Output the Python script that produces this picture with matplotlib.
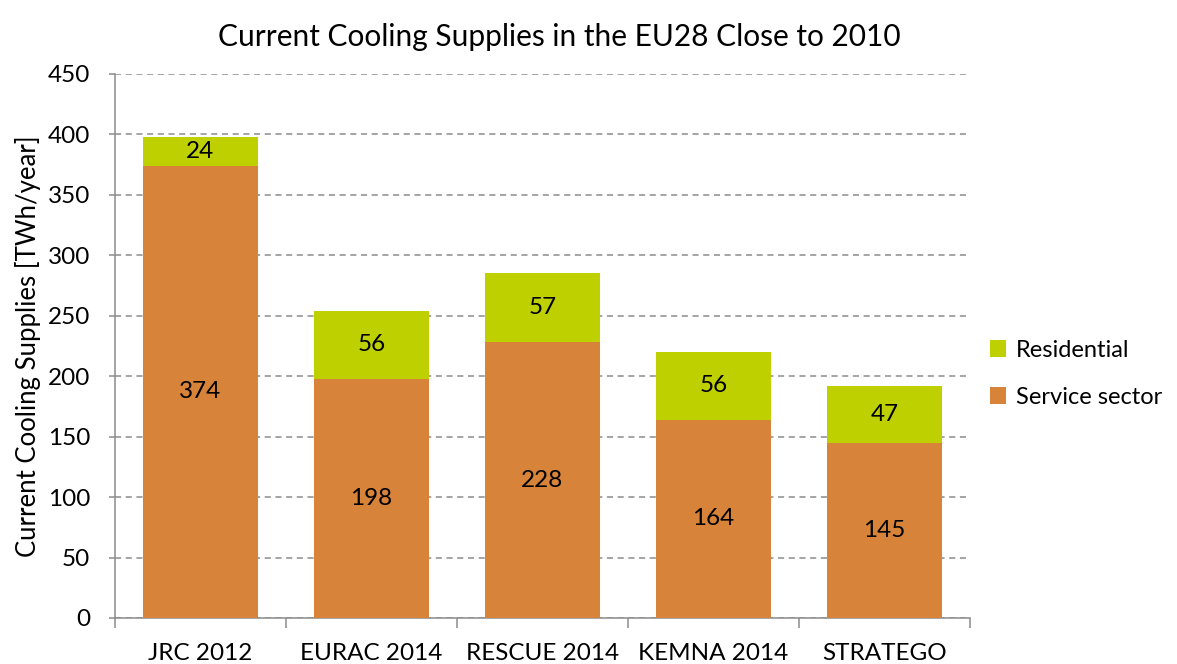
import matplotlib
matplotlib.use("Agg")
import matplotlib.pyplot as plt
import numpy as np

plt.rcParams['font.family'] = ['Lato', 'DejaVu Sans']

studies = ['JRC 2012', 'EURAC 2014', 'RESCUE 2014', 'KEMNA 2014', 'STRATEGO']
service = [374, 198, 228, 164, 145]
residential = [24, 56, 57, 56, 47]

orange = '#D8833A'
green = '#BFD000'

fig = plt.figure(figsize=(11.77, 6.64), dpi=100)
ax = fig.add_axes([0.0977, 0.0693, 0.7263, 0.8193])

x = np.arange(len(studies))
b1 = ax.bar(x, service, width=0.67, color=orange, label='Service sector', zorder=3)
b2 = ax.bar(x, residential, width=0.67, bottom=service, color=green, label='Residential', zorder=3)

for xi, s, r in zip(x, service, residential):
    ax.text(xi, s / 2, str(s), ha='center', va='center', fontsize=17.5, zorder=4)
    ax.text(xi, s + r / 2, str(r), ha='center', va='center', fontsize=17.5, zorder=4)

ax.set_xlim(-0.5, len(studies) - 0.5)
ax.set_ylim(0, 450)
ax.set_yticks(range(0, 451, 50))
ax.yaxis.grid(True, linestyle=(0, (4, 3)), color='#8c8c8c', linewidth=1.1, zorder=0)

ax.set_xticks(x)
ax.set_xticklabels(studies)
ax.set_xticks(np.arange(-0.5, len(studies), 1), minor=True)
ax.tick_params(axis='x', which='major', length=0, labelsize=17.5, pad=18)
ax.tick_params(axis='x', which='minor', length=7, color='#8c8c8c', width=1.1)
ax.tick_params(axis='y', length=4, color='#8c8c8c', width=1.1, labelsize=17.5, pad=14)

for side in ['top', 'right']:
    ax.spines[side].set_visible(False)
for side in ['left', 'bottom']:
    ax.spines[side].set_color('#8c8c8c')
    ax.spines[side].set_linewidth(1.1)

ax.set_ylabel('Current Cooling Supplies [TWh/year]', fontsize=18.5, labelpad=5)
ax.set_title('Current Cooling Supplies in the EU28 Close to 2010', fontsize=21.5, pad=20, x=0.52)

handles = [b2, b1]
fig.legend(handles, ['Residential', 'Service sector'], loc='center left',
           bbox_to_anchor=(0.841, 0.437), frameon=False, fontsize=17,
           borderpad=0, borderaxespad=0,
           handlelength=0.7, handleheight=0.7, handletextpad=0.4, labelspacing=1.1)

fig.savefig('out.png', dpi=100)
